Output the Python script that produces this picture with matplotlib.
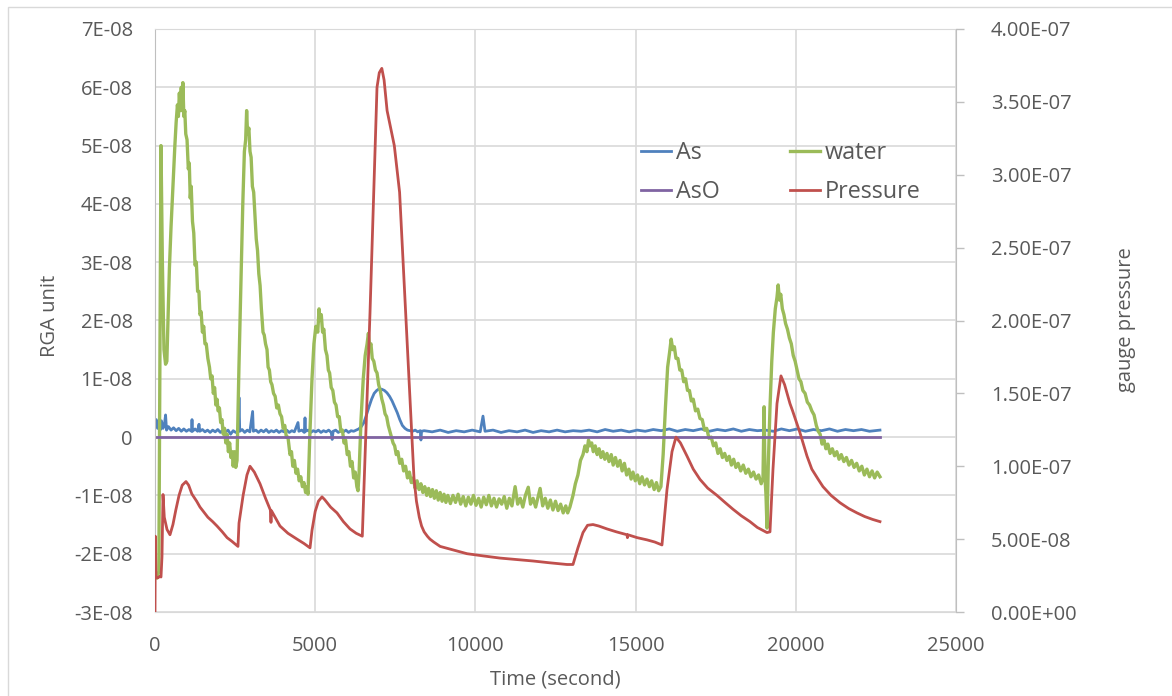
import numpy as np
import matplotlib
matplotlib.use("Agg")
import matplotlib.pyplot as plt
from matplotlib.patches import Rectangle

plt.rcParams['font.family'] = ['Open Sans', 'DejaVu Sans']

# RGA signals, values in units of 1e-8
water_t = [0, 60, 120, 187, 230, 280, 330, 370, 400, 450,
           500, 560, 620, 660, 700, 730, 760, 790, 820, 843,
           870, 900, 930, 960, 1000, 1040, 1070, 1100, 1130, 1170,
           1210, 1250, 1290, 1330, 1370, 1404, 1440, 1480, 1520, 1560,
           1600, 1650, 1700, 1740, 1780, 1820, 1860, 1900, 1935, 1970,
           2010, 2050, 2090, 2130, 2170, 2210, 2250, 2290, 2330, 2370,
           2410, 2440, 2480, 2520, 2560, 2620, 2680, 2740, 2790, 2830,
           2860, 2890, 2930, 2965, 3000, 3040, 3080, 3120, 3160, 3200,
           3240, 3280, 3320, 3371, 3410, 3450, 3496, 3530, 3570, 3610,
           3650, 3700, 3750, 3800, 3850, 3901, 3950, 4000, 4050, 4100,
           4150, 4213, 4260, 4300, 4350, 4400, 4450, 4500, 4550, 4600,
           4650, 4700, 4740, 4775, 4830, 4900, 4960, 5020, 5080, 5120,
           5150, 5190, 5230, 5270, 5320, 5368, 5410, 5450, 5500, 5550,
           5600, 5650, 5700, 5750, 5800, 5850, 5900, 5950, 6000, 6050,
           6100, 6150, 6200, 6250, 6300, 6336, 6370, 6430, 6500, 6560,
           6620, 6660, 6700, 6740, 6780, 6830, 6880, 6930, 6980, 7030,
           7080, 7130, 7180, 7230, 7280, 7330, 7380, 7430, 7480, 7530,
           7580, 7640, 7700, 7760, 7820, 7880, 7940, 8000, 8060, 8120,
           8180, 8240, 8300, 8360, 8420, 8480, 8540, 8600, 8660, 8720,
           8780, 8840, 8900, 8960, 9020, 9080, 9140, 9220, 9300, 9380,
           9460, 9540, 9620, 9700, 9780, 9860, 9940, 10020, 10100, 10180,
           10260, 10340, 10420, 10500, 10580, 10660, 10740, 10820, 10900, 10980,
           11060, 11140, 11240, 11320, 11400, 11480, 11560, 11650, 11720, 11800,
           11880, 11960, 12020, 12100, 12180, 12260, 12340, 12420, 12500, 12580,
           12660, 12740, 12820, 12880, 12950, 13046, 13120, 13200, 13280, 13358,
           13420, 13480, 13530, 13576, 13630, 13680, 13740, 13800, 13860, 13920,
           13980, 14040, 14107, 14170, 14240, 14300, 14370, 14440, 14513, 14580,
           14650, 14720, 14790, 14860, 14918, 14990, 15060, 15130, 15200, 15280,
           15355, 15430, 15500, 15580, 15650, 15720, 15790, 15860, 15930, 16000,
           16060, 16110, 16160, 16210, 16260, 16320, 16380, 16440, 16500, 16560,
           16620, 16680, 16740, 16800, 16870, 16940, 17009, 17080, 17150, 17220,
           17290, 17360, 17430, 17500, 17570, 17640, 17710, 17780, 17850, 17920,
           17990, 18060, 18130, 18200, 18280, 18360, 18440, 18520, 18600, 18680,
           18760, 18840, 18920, 18976, 19010, 19040, 19070, 19101, 19140, 19194,
           19250, 19300, 19360, 19413, 19450, 19490, 19530, 19580, 19630, 19680,
           19740, 19800, 19860, 19920, 19980, 20040, 20100, 20160, 20220, 20290,
           20360, 20430, 20500, 20570, 20640, 20700, 20760, 20820, 20880, 20940,
           21000, 21070, 21140, 21210, 21280, 21350, 21420, 21500, 21580, 21660,
           21740, 21820, 21900, 21980, 22060, 22140, 22220, 22300, 22380, 22460,
           22540, 22627]
water_v = [-2.35, -2.42, -2.3, 5.0, 3.0, 1.5, 1.25, 1.3, 1.9, 2.9,
           3.6, 4.3, 5.0, 5.4, 5.7, 5.5, 5.9, 5.6, 6.0, 5.6,
           6.08, 5.5, 5.6, 5.2, 5.1, 4.6, 4.7, 4.1, 4.3, 3.7,
           3.5, 2.95, 3.0, 2.5, 2.5, 2.1, 2.15, 1.8, 1.9, 1.6,
           1.6, 1.35, 1.2, 1.0, 1.05, 0.75, 0.85, 0.55, 0.65, 0.45,
           0.5, 0.25, 0.3, 0.05, 0.15, -0.1, 0.05, -0.25, -0.1, -0.35,
           -0.25, -0.5, -0.25, -0.52, -0.4, 1.2, 2.6, 4.0, 4.9, 5.1,
           5.6, 5.2, 5.3, 4.9, 4.8, 4.3, 4.2, 3.8, 3.4, 3.2,
           2.8, 2.6, 2.2, 1.8, 1.75, 1.6, 1.5, 1.2, 1.15, 0.95,
           0.9, 0.75, 0.7, 0.5, 0.55, 0.4, 0.35, 0.15, 0.2, 0.0,
           0.0, -0.3, -0.25, -0.5, -0.4, -0.62, -0.55, -0.75, -0.68, -0.85,
           -0.78, -0.95, -0.85, -0.98, 0.0, 1.0, 1.6, 1.9, 1.8, 2.2,
           2.0, 2.1, 1.8, 1.85, 1.5, 1.4, 1.15, 1.1, 0.85, 0.8,
           0.6, 0.55, 0.35, 0.35, 0.1, 0.12, -0.1, -0.05, -0.3, -0.25,
           -0.5, -0.42, -0.7, -0.6, -0.85, -0.92, -0.6, 0.3, 1.0, 1.4,
           1.6, 1.78, 1.55, 1.6, 1.35, 1.3, 1.15, 1.1, 0.9, 0.8,
           0.65, 0.55, 0.4, 0.35, 0.2, 0.1, 0.0, -0.1, -0.15, -0.3,
           -0.25, -0.45, -0.38, -0.58, -0.5, -0.7, -0.6, -0.78, -0.7, -0.88,
           -0.75, -0.9, -0.8, -0.95, -0.85, -1.0, -0.88, -1.02, -0.9, -1.05,
           -0.92, -1.08, -0.95, -1.1, -0.98, -1.12, -1.0, -1.14, -1.0, -1.12,
           -0.98, -1.15, -1.02, -1.18, -1.03, -1.15, -1.0, -1.17, -1.05, -1.2,
           -1.03, -1.16, -1.0, -1.18, -1.05, -1.2, -1.06, -1.15, -1.02, -1.22,
           -1.05, -1.18, -0.85, -1.15, -1.05, -1.2, -1.0, -0.86, -1.15, -1.05,
           -1.2, -1.02, -0.88, -1.18, -1.05, -1.22, -1.08, -1.25, -1.1, -1.26,
           -1.15, -1.3, -1.18, -1.3, -1.2, -1.0, -0.8, -0.65, -0.4, -0.3,
           -0.15, -0.25, -0.05, -0.15, -0.1, -0.25, -0.15, -0.3, -0.2, -0.35,
           -0.25, -0.38, -0.28, -0.42, -0.3, -0.48, -0.35, -0.5, -0.4, -0.58,
           -0.45, -0.65, -0.55, -0.72, -0.6, -0.75, -0.65, -0.8, -0.68, -0.82,
           -0.72, -0.85, -0.75, -0.9, -0.78, -0.92, -0.85, -0.3, 0.5, 1.2,
           1.45, 1.68, 1.5, 1.55, 1.35, 1.35, 1.15, 1.15, 0.95, 1.0,
           0.8, 0.8, 0.62, 0.65, 0.45, 0.48, 0.32, 0.3, 0.12, 0.15,
           -0.02, 0.0, -0.15, -0.1, -0.28, -0.2, -0.35, -0.28, -0.4, -0.33,
           -0.48, -0.38, -0.52, -0.45, -0.58, -0.48, -0.62, -0.55, -0.68, -0.6,
           -0.72, -0.65, -0.8, -0.7, 0.52, -0.7, -1.0, -1.56, -0.5, 0.5,
           1.3, 1.8, 2.2, 2.4, 2.61, 2.35, 2.45, 2.2, 2.1, 1.95,
           1.85, 1.7, 1.6, 1.4, 1.3, 1.15, 1.0, 0.95, 0.8, 0.75,
           0.6, 0.55, 0.45, 0.38, 0.2, 0.1, 0.05, -0.12, -0.05, -0.2,
           -0.12, -0.28, -0.2, -0.32, -0.25, -0.38, -0.3, -0.42, -0.35, -0.48,
           -0.4, -0.52, -0.45, -0.58, -0.5, -0.65, -0.55, -0.68, -0.58, -0.7,
           -0.6, -0.68]

as_t = [0, 40, 80, 120, 160, 200, 250, 290, 330, 360,
        420, 500, 580, 660, 740, 820, 900, 980, 1060, 1140,
        1155, 1170, 1250, 1330, 1373, 1400, 1480, 1560, 1640, 1720,
        1800, 1880, 1960, 2040, 2120, 2200, 2280, 2360, 2440, 2520,
        2600, 2622, 2645, 2720, 2800, 2880, 2960, 3047, 3070, 3150,
        3230, 3310, 3390, 3470, 3550, 3630, 3710, 3790, 3870, 3950,
        4030, 4110, 4190, 4270, 4350, 4463, 4490, 4580, 4660, 4682,
        4700, 4780, 4860, 4940, 5020, 5100, 5180, 5260, 5340, 5420,
        5500, 5530, 5560, 5640, 5720, 5800, 5880, 5960, 6040, 6120,
        6200, 6280, 6360, 6440, 6520, 6600, 6680, 6760, 6840, 6920,
        7000, 7080, 7160, 7240, 7320, 7400, 7480, 7560, 7640, 7720,
        7800, 7880, 7960, 8040, 8120, 8200, 8280, 8300, 8320, 8400,
        8650, 8900, 9150, 9400, 9650, 9900, 10150, 10237, 10300, 10550,
        10800, 11050, 11300, 11550, 11800, 12050, 12300, 12550, 12800, 13050,
        13300, 13550, 13800, 14050, 14300, 14550, 14800, 15050, 15300, 15550,
        15800, 16050, 16300, 16550, 16800, 17050, 17300, 17550, 17800, 18050,
        18300, 18550, 18800, 19050, 19300, 19550, 19800, 20050, 20300, 20550,
        20800, 21050, 21300, 21550, 21800, 22050, 22300, 22627]
as_v = [0.2, 0.3, 0.15, 0.25, 0.12, 0.28, 0.15, 0.2, 0.38, 0.12,
        0.18, 0.12, 0.16, 0.11, 0.15, 0.1, 0.14, 0.1, 0.13, 0.1,
        0.3, 0.1, 0.14, 0.1, 0.22, 0.1, 0.13, 0.09, 0.12, 0.08,
        0.12, 0.09, 0.13, 0.08, 0.12, 0.09, 0.12, 0.05, 0.11, 0.08,
        0.1, 0.68, 0.1, 0.13, 0.08, 0.12, 0.09, 0.44, 0.1, 0.12,
        0.08, 0.12, 0.09, 0.13, 0.08, 0.11, 0.09, 0.12, 0.08, 0.11,
        0.09, 0.12, 0.08, 0.11, 0.09, 0.25, 0.1, 0.12, 0.08, 0.33,
        0.1, 0.12, 0.08, 0.11, 0.09, 0.12, 0.08, 0.11, 0.09, 0.12,
        0.08, -0.04, 0.1, 0.12, 0.08, 0.11, 0.09, 0.12, 0.08, 0.11,
        0.1, 0.12, 0.14, 0.18, 0.25, 0.38, 0.52, 0.65, 0.75, 0.8,
        0.83, 0.82, 0.8, 0.76, 0.7, 0.62, 0.52, 0.42, 0.3, 0.2,
        0.15, 0.12, 0.11, 0.1, 0.12, 0.09, 0.11, -0.05, 0.1, 0.11,
        0.09, 0.12, 0.08, 0.11, 0.09, 0.12, 0.09, 0.36, 0.1, 0.12,
        0.08, 0.11, 0.09, 0.12, 0.08, 0.11, 0.09, 0.12, 0.09, 0.11,
        0.1, 0.12, 0.09, 0.13, 0.1, 0.12, 0.09, 0.12, 0.1, 0.13,
        0.11, 0.14, 0.1, 0.13, 0.11, 0.14, 0.1, 0.13, 0.11, 0.14,
        0.1, 0.13, 0.11, 0.12, 0.1, 0.14, 0.11, 0.14, 0.1, 0.13,
        0.11, 0.14, 0.1, 0.13, 0.11, 0.13, 0.1, 0.12]

aso_t = [0, 22627]
aso_v = [0.0, 0.0]

# gauge pressure, values in units of 1e-8
pres_t = [0, 10, 31, 94, 156, 187, 218, 250, 290, 375,
          468, 560, 650, 750, 850, 967, 1050, 1150, 1300, 1404,
          1650, 1800, 1935, 2100, 2250, 2400, 2590, 2622, 2750, 2870,
          2965, 3100, 3277, 3450, 3600, 3620, 3635, 3901, 4150, 4432,
          4650, 4838, 4900, 5000, 5100, 5212, 5300, 5480, 5680, 5880,
          6086, 6280, 6470, 6710, 6929, 7000, 7079, 7150, 7244, 7469,
          7634, 7803, 7971, 8083, 8160, 8249, 8320, 8400, 8500, 8582,
          8700, 8900, 9238, 9738, 10237, 10767, 11300, 11797, 12300, 12858,
          13046, 13200, 13358, 13500, 13670, 13850, 14107, 14400, 14731, 14745,
          14760, 15050, 15355, 15600, 15823, 15980, 16136, 16260, 16400, 16604,
          16800, 17009, 17250, 17540, 17800, 18040, 18300, 18570, 18800, 19101,
          19194, 19288, 19413, 19537, 19650, 19818, 19900, 20130, 20349, 20500,
          20700, 20848, 21100, 21378, 21650, 21909, 22150, 22400, 22627]
pres_v = [0.0, 5.2, 2.4, 2.35, 2.45, 2.4, 3.8, 8.06, 6.5, 5.66,
          5.3, 6.0, 7.0, 8.0, 8.7, 8.95, 8.7, 8.1, 7.6, 7.2,
          6.5, 6.2, 5.9, 5.5, 5.1, 4.85, 4.5, 6.1, 8.0, 9.4,
          10.0, 9.6, 8.8, 7.8, 7.0, 6.15, 6.95, 5.9, 5.4, 5.0,
          4.7, 4.4, 5.6, 6.9, 7.6, 7.9, 7.7, 7.2, 6.8, 6.2,
          5.7, 5.4, 5.2, 20.5, 36.0, 37.0, 37.3, 36.5, 34.4, 32.0,
          28.8, 21.4, 14.1, 9.2, 7.6, 6.5, 5.9, 5.5, 5.2, 5.0,
          4.8, 4.5, 4.3, 4.0, 3.85, 3.7, 3.6, 3.5, 3.38, 3.26,
          3.26, 4.4, 5.45, 5.95, 6.0, 5.9, 5.7, 5.5, 5.3, 5.1,
          5.3, 5.1, 4.95, 4.8, 4.6, 8.4, 11.0, 12.0, 11.6, 10.7,
          9.8, 9.1, 8.5, 8.0, 7.5, 7.05, 6.6, 6.2, 5.8, 5.45,
          5.5, 9.8, 14.3, 16.2, 15.6, 14.3, 13.8, 12.3, 10.7, 9.8,
          9.1, 8.6, 8.0, 7.5, 7.1, 6.8, 6.55, 6.35, 6.2]

left_ticks = [-3e-8, -2e-8, -1e-8, 0, 1e-8, 2e-8, 3e-8, 4e-8, 5e-8, 6e-8, 7e-8]
left_labels = ["-3E-08", "-2E-08", "-1E-08", "0", "1E-08", "2E-08",
               "3E-08", "4E-08", "5E-08", "6E-08", "7E-08"]
right_ticks = [0, 5e-8, 1e-7, 1.5e-7, 2e-7, 2.5e-7, 3e-7, 3.5e-7, 4e-7]
right_labels = ["0.00E+00", "5.00E-08", "1.00E-07", "1.50E-07", "2.00E-07",
                "2.50E-07", "3.00E-07", "3.50E-07", "4.00E-07"]
x_ticks = [0, 5000, 10000, 15000, 20000, 25000]

SCALE = 1e-8
BLUE, RED, GREEN, PURPLE = "#4F81BD", "#C0504D", "#9BBB59", "#8064A2"
TXT, GRID, AXIS = "#595959", "#D9D9D9", "#BFBFBF"

W, H = 1172, 696
fig = plt.figure(figsize=(W / 100, H / 100), dpi=100)
ax = fig.add_axes([155 / W, 1 - 612 / H, (956 - 155) / W, (612 - 29) / H])
ax2 = ax.twinx()

ax.plot(as_t, np.array(as_v) * SCALE, color=BLUE, lw=2, label="As")
ax.plot(water_t, np.array(water_v) * SCALE, color=GREEN, lw=2.4, label="water")
ax.plot(aso_t, np.array(aso_v) * SCALE, color=PURPLE, lw=2, label="AsO")
ax2.plot(pres_t, np.array(pres_v) * SCALE, color=RED, lw=2, label="Pressure")

ax.set_xlim(0, 25000)
ax.set_ylim(-3e-8, 7e-8)
ax2.set_ylim(0, 4e-7)

ax.set_xticks(x_ticks)
ax.set_xticklabels([str(v) for v in x_ticks])
ax.set_yticks(left_ticks)
ax.set_yticklabels(left_labels)
ax2.set_yticks(right_ticks)
ax2.set_yticklabels(right_labels)

ax.grid(True, color=GRID, lw=1.2)
ax.set_axisbelow(True)
ax.tick_params(axis='both', length=0, labelsize=14.5, labelcolor=TXT)
ax.tick_params(axis='y', pad=16)
ax.tick_params(axis='x', pad=17)
ax2.tick_params(axis='y', direction='out', length=6, width=1, color=AXIS,
                labelsize=14.5, labelcolor=TXT, pad=19)

ax.spines['left'].set_color(AXIS)
ax.spines['bottom'].set_color(GRID)
ax.spines['top'].set_color(GRID)
ax.spines['right'].set_visible(False)
for s in ['left', 'top', 'bottom']:
    ax2.spines[s].set_visible(False)
ax2.spines['right'].set_color(AXIS)

fig.text(50 / W, 1 - 316 / H, "RGA unit", rotation=90, ha='center', va='center',
         fontsize=14.5, color=TXT)
fig.text(1126 / W, 1 - 320 / H, "gauge pressure", rotation=90, ha='center',
         va='center', fontsize=14.5, color=TXT)
fig.text(555 / W, 1 - 679 / H, "Time (second)", ha='center', va='center',
         fontsize=14.5, color=TXT)

h1, l1 = ax.get_legend_handles_labels()
h2, l2 = ax2.get_legend_handles_labels()
handles = [h1[0], h1[2], h1[1], h2[0]]
labels = [l1[0], l1[2], l1[1], l2[0]]
leg = ax2.legend(handles, labels, ncol=2, frameon=False, fontsize=16.8,
                 loc='upper left', bbox_to_anchor=(641 / W, 1 - 141 / H),
                 bbox_transform=fig.transFigure, borderpad=0, borderaxespad=0,
                 handlelength=1.3, handletextpad=0.2, columnspacing=3.0,
                 labelspacing=0.65)
for t in leg.get_texts():
    t.set_color(TXT)

# outer chart border
fig.patches.append(Rectangle((8 / W, -0.1), 1.2, 1.1 - 7 / H, transform=fig.transFigure,
                             fill=False, edgecolor=GRID, lw=1))

fig.savefig("out.png", dpi=100)
